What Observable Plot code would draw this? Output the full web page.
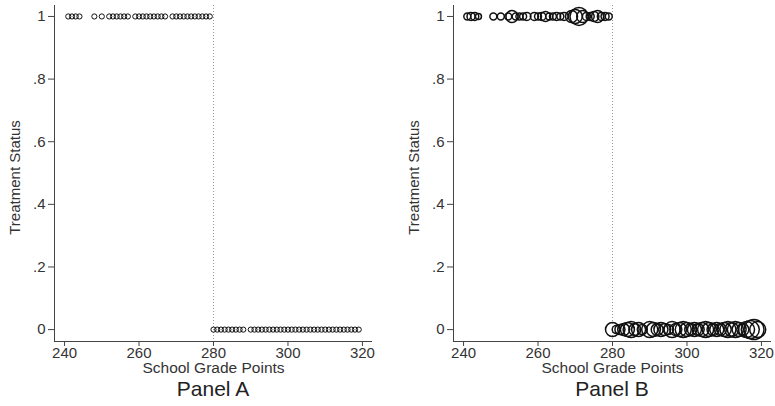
<!DOCTYPE html>
<html>
<head>
<meta charset="utf-8">
<script src="https://cdn.jsdelivr.net/npm/d3@7"></script>
<script src="https://cdn.jsdelivr.net/npm/@observablehq/plot@0.6"></script>
<style>
  html, body { margin: 0; padding: 0; background: #fff; }
  #wrap { display: flex; width: 775px; height: 406px; font-family: "Liberation Sans", Arial, sans-serif; }
  .panel { position: relative; }
  .cap { font-size: 21px; color: #222; text-align: center; line-height: 22px; margin-top: 0px; }
</style>
</head>
<body>
<div id="wrap"></div>
<script>
const xTicks = [240, 260, 280, 300, 320];
const yTicks = [0, 0.2, 0.4, 0.6, 0.8, 1];
const cutoff = 280;

// Treated (status = 1) grade points and cell counts (Panel B weights)
const treatedGrades = [241,242,243,244,248,250,252,253,254,255,256,257,259,260,261,262,263,264,265,266,267,269,270,271,272,273,274,275,276,277,278,279];
const treatedCounts = [12,16,16,9,12,12,12,36,12,12,12,16,16,12,16,25,12,12,16,12,16,36,49,81,36,16,16,25,36,16,16,12];

// Control (status = 0) grade points and cell counts
const controlGrades = [280,281,282,283,284,285,286,287,288,290,291,292,293,294,295,296,297,298,299,300,301,302,303,304,305,306,307,308,309,310,311,312,313,314,315,316,317,318,319];
const controlCounts = [49,16,25,36,49,64,36,49,25,64,49,36,49,36,25,64,36,49,64,49,36,49,36,49,64,49,36,49,36,49,64,49,64,49,36,64,81,100,64];

const data = [
  ...treatedGrades.map((g, i) => ({grade: g, status: 1, n: treatedCounts[i]})),
  ...controlGrades.map((g, i) => ({grade: g, status: 0, n: controlCounts[i]}))
];

const xDomain = [237.3, 322.7];
const yDomain = [-0.038, 1.035];
const fmtY = d => d === 0 ? "0" : d === 1 ? "1" : d3.format(".1f")(d).replace(/^0/, "");

function panel(weighted, width, mL, mR, caption) {
  const dotOpts = weighted
    ? {x: "grade", y: "status", r: "n", stroke: "#111", strokeWidth: 1.5, fill: "none"}
    : {x: "grade", y: "status", r: 2.6, stroke: "#111", strokeWidth: 1, fill: "none"};
  const chart = Plot.plot({
    width, height: 378,
    marginLeft: mL, marginRight: mR, marginTop: 5, marginBottom: 37,
    x: {domain: xDomain},
    y: {domain: yDomain},
    r: {domain: [0, 100], range: [0, 10]},
    style: {fontFamily: "Liberation Sans, Arial, sans-serif", fontSize: "15px", color: "#333", background: "#fff"},
    marks: [
      Plot.ruleX([cutoff], {stroke: "#999", strokeDasharray: "1,2", strokeWidth: 1}),
      Plot.ruleX([xDomain[0]], {stroke: "#444", strokeWidth: 1}),
      Plot.ruleY([yDomain[0]], {stroke: "#444", strokeWidth: 1}),
      Plot.axisY({ticks: yTicks, tickFormat: fmtY, tickSize: 6, tickPadding: 3, label: null, stroke: "#444", fill: "#333", fontSize: 15}),
      Plot.axisX({ticks: xTicks, tickSize: 5, tickPadding: 1, label: null, stroke: "#444", fill: "#333", fontSize: 15}),
      Plot.dot(data, dotOpts),
      Plot.text(["School Grade Points"], {frameAnchor: "bottom", lineAnchor: "middle", dy: 27, fill: "#333", fontSize: 15.5}),
      Plot.text(["Treatment Status"], {frameAnchor: "left", textAnchor: "middle", rotate: -90, dx: -39, dy: 4, fill: "#333", fontSize: 15})
    ]
  });
  const div = document.createElement("div");
  div.className = "panel";
  div.style.width = width + "px";
  div.appendChild(chart);
  const cap = document.createElement("div");
  cap.className = "cap";
  cap.style.paddingLeft = mL + "px";
  cap.style.paddingRight = mR + "px";
  cap.textContent = caption;
  div.appendChild(cap);
  return div;
}

const wrap = document.getElementById("wrap");
wrap.appendChild(panel(false, 387, 54, 15, "Panel A"));
wrap.appendChild(panel(true, 388, 66, 4, "Panel B"));
</script>
</body>
</html>
